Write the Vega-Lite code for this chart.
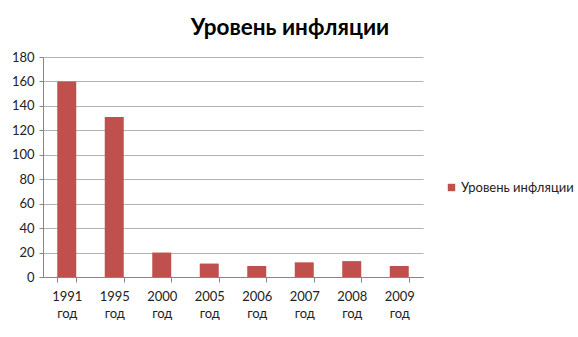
{
  "$schema": "https://vega.github.io/schema/vega-lite/v6.json",
  "width": 380,
  "height": 220,
  "autosize": {"type": "none"},
  "padding": {"left": 43, "top": 57, "right": 155, "bottom": 60},
  "background": "white",
  "title": {
    "text": "Уровень инфляции",
    "font": "Lato",
    "fontSize": 22.5,
    "fontWeight": "bold",
    "color": "#000000",
    "anchor": "middle",
    "dx": 57,
    "offset": 12
  },
  "data": {
    "values": [
      {"year": "1991 год", "value": 160, "series": "Уровень инфляции"},
      {"year": "1995 год", "value": 131, "series": "Уровень инфляции"},
      {"year": "2000 год", "value": 20, "series": "Уровень инфляции"},
      {"year": "2005 год", "value": 11, "series": "Уровень инфляции"},
      {"year": "2006 год", "value": 9, "series": "Уровень инфляции"},
      {"year": "2007 год", "value": 12, "series": "Уровень инфляции"},
      {"year": "2008 год", "value": 13, "series": "Уровень инфляции"},
      {"year": "2009 год", "value": 9, "series": "Уровень инфляции"}
    ]
  },
  "mark": {"type": "bar"},
  "encoding": {
    "x": {
      "field": "year",
      "type": "nominal",
      "sort": null,
      "scale": {"paddingInner": 0.6, "paddingOuter": 0.3},
      "axis": {
        "title": null,
        "labelAngle": 0,
        "labelExpr": "split(datum.label, ' ')",
        "labelLineHeight": 17,
        "labelFont": "Lato",
        "labelFontSize": 13,
        "labelColor": "#222222",
        "labelPadding": 8,
        "tickBand": "extent",
        "tickSize": 5,
        "tickColor": "#868686",
        "domainColor": "#868686",
        "grid": false
      }
    },
    "y": {
      "field": "value",
      "type": "quantitative",
      "scale": {"domain": [0, 180], "nice": false},
      "axis": {
        "title": null,
        "values": [0, 20, 40, 60, 80, 100, 120, 140, 160, 180],
        "labelFont": "Lato",
        "labelFontSize": 13,
        "labelColor": "#222222",
        "labelPadding": 5,
        "tickSize": 4,
        "tickColor": "#868686",
        "domainColor": "#868686",
        "grid": true,
        "gridColor": "#b3b3b3"
      }
    },
    "color": {
      "field": "series",
      "type": "nominal",
      "scale": {"range": ["#C0504D"]},
      "legend": {
        "title": null,
        "orient": "none",
        "legendX": 402,
        "legendY": 124,
        "symbolType": "square",
        "symbolSize": 55,
        "labelFont": "Lato",
        "labelFontSize": 13,
        "labelColor": "#222222",
        "labelOffset": 3
      }
    }
  },
  "config": {
    "view": {"stroke": null}
  }
}
